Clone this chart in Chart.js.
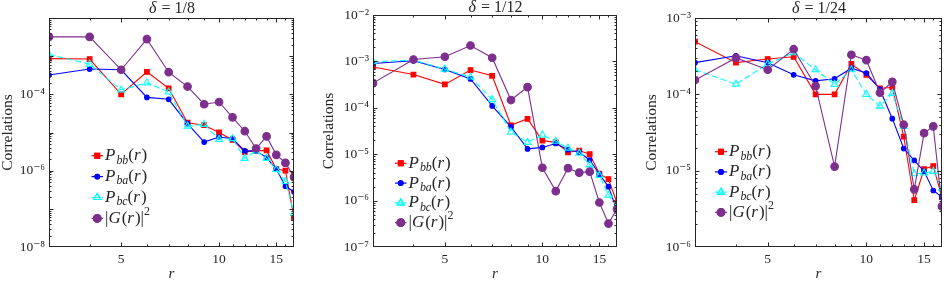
<!DOCTYPE html>
<html>
<head>
<meta charset="utf-8">
<script src="https://cdn.jsdelivr.net/npm/chart.js@4.4.1/dist/chart.umd.min.js"></script>
<style>
  body { margin: 0; background: #fff; width: 947px; height: 284px; overflow: hidden; position: relative; }
  .panel { position: absolute; top: 0; }
</style>
</head>
<body>
<div class="panel" style="left:0px"><canvas id="c8" width="310" height="284"></canvas></div>
<div class="panel" style="left:310px"><canvas id="c12" width="320" height="284"></canvas></div>
<div class="panel" style="left:627px"><canvas id="c24" width="320" height="284"></canvas></div>
<script>
// distances r
const rValues = [3, 4, 5, 6, 7, 8, 9, 10, 11, 12, 13, 14, 15, 16, 17];
const xTickLabels = [5, 10, 15];

// delta = 1/8
const pbb8 = [8.6e-4, 8.4e-4, 1.0e-4, 3.9e-4, 1.44e-4, 1.8e-5, 1.55e-5, 1.0e-5, 6.4e-6, 3.1e-6, 3.3e-6, 3.4e-6, 1.1e-6, 1.0e-6, 5.8e-8];
const pba8 = [3.2e-4, 4.6e-4, 4.4e-4, 8.3e-5, 7.4e-5, 1.7e-5, 5.6e-6, 7.6e-6, 6.9e-6, 3.3e-6, 3.3e-6, 2.2e-6, 1.1e-6, 3.9e-7, 2.8e-7];
const pbc8 = [1.1e-3, 6.2e-4, 1.3e-4, 2.0e-4, 1.15e-4, 1.47e-5, 1.63e-5, 6.6e-6, 6.9e-6, 2.1e-6, 3.3e-6, 2.1e-6, 1.07e-6, 5.2e-7, 7.6e-8];
const g8   = [3.2e-3, 3.2e-3, 4.4e-4, 2.8e-3, 3.8e-4, 1.6e-4, 5.5e-5, 6.3e-5, 2.5e-5, 1.08e-5, 3.8e-6, 7.9e-6, 2.6e-6, 1.6e-6, 6.8e-7];

// delta = 1/12
const pbb12 = [7.6e-4, 5.2e-4, 3.2e-4, 6.5e-4, 4.9e-4, 4.2e-5, 5.8e-5, 1.96e-5, 1.8e-5, 1.1e-5, 1.2e-5, 1.0e-5, 3.8e-6, 2.9e-6, 8.9e-7];
const pba12 = [9.0e-4, 1.03e-3, 6.7e-4, 4.2e-4, 1.1e-4, 3.9e-5, 1.3e-5, 1.4e-5, 1.7e-5, 1.25e-5, 1.1e-5, 7.5e-6, 3.7e-6, 2.0e-6, 6.0e-7];
const pbc12 = [9.8e-4, 1.07e-3, 6.8e-4, 4.6e-4, 1.5e-4, 3.0e-5, 1.8e-5, 2.6e-5, 1.9e-5, 1.35e-5, 1.05e-5, 5.9e-6, 3.5e-6, 1.3e-6, 7.6e-7];
const g12   = [3.4e-4, 1.1e-3, 1.26e-3, 2.2e-3, 1.2e-3, 1.47e-4, 2.8e-4, 5.1e-6, 1.6e-6, 5.0e-6, 4.0e-6, 4.2e-6, 9.1e-7, 3.2e-7, 6.6e-7];

// delta = 1/24
const pbb24 = [4.9e-4, 2.6e-4, 2.9e-4, 3.1e-4, 1.0e-4, 1.0e-4, 2.5e-4, 1.8e-4, 1.2e-4, 1.23e-4, 2.8e-5, 4.1e-6, 1.05e-5, 1.15e-5, 4.5e-6];
const pba24 = [2.6e-4, 3.2e-4, 2.6e-4, 1.8e-4, 1.5e-4, 1.6e-4, 2.2e-4, 1.9e-4, 1.16e-4, 4.8e-5, 1.95e-5, 1.36e-5, 9.8e-6, 5.5e-6, 4.5e-6];
const pbc24 = [2.1e-4, 1.36e-4, 2.5e-4, 3.5e-4, 2.1e-4, 1.35e-4, 2.1e-4, 1.0e-4, 7.0e-5, 1.03e-4, 3.8e-5, 9.1e-6, 9.3e-6, 9.8e-6, 5.9e-6];
const g24   = [1.54e-4, 3.0e-4, 2.1e-4, 3.9e-4, 1.28e-4, 1.13e-5, 3.3e-4, 2.8e-4, 1.05e-4, 1.46e-4, 4.0e-5, 5.7e-6, 3.1e-5, 3.8e-5, 3.4e-6];

const INK = '#262626';
const SERIF = '"Liberation Serif", "DejaVu Serif", serif';

const SUP = { '-': '\u207B', '0': '\u2070', '1': '\u00B9', '2': '\u00B2', '3': '\u00B3', '4': '\u2074', '5': '\u2075', '6': '\u2076', '7': '\u2077', '8': '\u2078', '9': '\u2079' };
const sup = s => String(s).split('').map(c => SUP[c]).join('');

const styles = [
  { name: [['P', 'i'], ['bb', 'sub'], ['(', 'n'], ['r', 'i'], [')', 'n']], color: '#ff0000', pointStyle: 'rect', radius: 3.3, fill: '#ff0000', dash: [] },
  { name: [['P', 'i'], ['ba', 'sub'], ['(', 'n'], ['r', 'i'], [')', 'n']], color: '#0000ff', pointStyle: 'circle', radius: 2.3, fill: '#0000ff', dash: [] },
  { name: [['P', 'i'], ['bc', 'sub'], ['(', 'n'], ['r', 'i'], [')', 'n']], color: '#00ffff', pointStyle: 'triangle', radius: 4, fill: 'rgba(255,255,255,0)', dash: [6, 3] },
  { name: [['|', 'n'], ['G', 'i'], ['(', 'n'], ['r', 'i'], [')|', 'n'], ['2', 'sup']], color: '#7e2f8e', pointStyle: 'circle', radius: 3.8, fill: '#7e2f8e', dash: [] }
];

// frame with inward ticks on all sides
const framePlugin = {
  id: 'frame',
  afterDatasetsDraw(chart) {
    const { ctx, chartArea: a, scales: { x, y } } = chart;
    ctx.save();
    ctx.strokeStyle = INK;
    ctx.lineWidth = 1;
    ctx.beginPath();
    x.ticks.forEach(t => {
      const px = Math.round(x.getPixelForValue(t.value)) + 0.5;
      if (px <= a.left + 1 || px >= a.right - 1) return;
      const len = t.big ? 4.5 : 2.5;
      ctx.moveTo(px, a.bottom); ctx.lineTo(px, a.bottom - len);
      ctx.moveTo(px, a.top); ctx.lineTo(px, a.top + len);
    });
    y.ticks.forEach(t => {
      const py = Math.round(y.getPixelForValue(t.value)) + 0.5;
      if (py <= a.top + 1 || py >= a.bottom - 1) return;
      const len = t.big ? 4.5 : 2.5;
      ctx.moveTo(a.left, py); ctx.lineTo(a.left + len, py);
      ctx.moveTo(a.right, py); ctx.lineTo(a.right - len, py);
    });
    ctx.stroke();
    ctx.strokeRect(Math.round(a.left) + 0.5, Math.round(a.top) + 0.5, Math.round(a.width) - 1, Math.round(a.height) - 1);
    ctx.restore();
  }
};

function mathText(ctx, parts, x, y, size) {
  parts.forEach(([txt, kind]) => {
    let s = size, dy = 0, italic = kind === 'i';
    if (kind === 'sub') { s = size * 0.7; dy = size * 0.28; italic = true; }
    if (kind === 'sup') { s = size * 0.7; dy = -size * 0.38; }
    ctx.font = (italic ? 'italic ' : '') + s + 'px ' + SERIF;
    ctx.fillText(txt, x, y + dy);
    x += ctx.measureText(txt).width + (italic && kind === 'i' ? 1 : 0);
  });
}

// title and legend drawn with mixed italic text
const annotPlugin = {
  id: 'annot',
  afterDraw(chart, args, opts) {
    const { ctx, chartArea: a } = chart;
    ctx.save();
    ctx.fillStyle = INK;
    ctx.textBaseline = 'middle';
    // title
    const tsize = 16;
    const tparts = [['\u03B4', 'i'], [' = ' + opts.title, 'n']];
    let w = 0;
    tparts.forEach(([t, k]) => { ctx.font = (k === 'i' ? 'italic ' : '') + tsize + 'px ' + SERIF; w += ctx.measureText(t).width; });
    mathText(ctx, tparts, (a.left + a.right) / 2 - w / 2, opts.titleY, tsize);
    // legend
    const L = opts.legend;
    styles.forEach((st, i) => {
      const yy = L.y + i * L.dy;
      ctx.strokeStyle = st.color;
      ctx.lineWidth = 1.2;
      ctx.setLineDash(st.dash.length ? [3, 2] : []);
      ctx.beginPath(); ctx.moveTo(L.x, yy); ctx.lineTo(L.x + L.len, yy); ctx.stroke();
      ctx.setLineDash([]);
      ctx.fillStyle = st.fill;
      ctx.lineWidth = 1.2;
      Chart.helpers.drawPoint(ctx, { pointStyle: st.pointStyle, radius: st.radius, rotation: 0, borderWidth: 1.2 }, L.x + L.len / 2, yy);
      ctx.fill(); ctx.stroke();
      ctx.fillStyle = INK;
      mathText(ctx, st.name, L.x + L.len + 2, yy, 17);
    });
    ctx.restore();
  }
};

function decadeTicks(lo, hi) {
  const t = [];
  for (let e = lo; e < hi; e++) for (let k = 1; k < 10; k++) t.push({ value: k * Math.pow(10, e), big: k === 1 });
  t.push({ value: Math.pow(10, hi), big: true });
  return t;
}

function makeChart(id, p) {
  const series = [p.pbb, p.pba, p.pbc, p.g];
  new Chart(document.getElementById(id), {
    type: 'line',
    data: {
      datasets: series.map((vals, i) => ({
        data: rValues.map((r, j) => ({ x: r, y: vals[j] })),
        borderColor: styles[i].color,
        backgroundColor: styles[i].fill,
        pointBorderColor: styles[i].color,
        pointBackgroundColor: styles[i].fill,
        pointStyle: styles[i].pointStyle,
        pointRadius: styles[i].radius,
        pointBorderWidth: 1.1,
        borderWidth: 1.1,
        borderDash: styles[i].dash,
        tension: 0,
        order: 3 - i
      }))
    },
    options: {
      responsive: false,
      animation: false,
      events: [],
      layout: { padding: { top: p.top, right: p.right, left: 0, bottom: 0 } },
      plugins: {
        legend: { display: false },
        tooltip: { enabled: false },
        annot: { title: p.title, titleY: p.titleY, legend: p.legend }
      },
      scales: {
        x: {
          type: 'logarithmic', min: 3, max: 17,
          afterBuildTicks: s => { s.ticks = rValues.map(v => ({ value: v, big: xTickLabels.includes(v) })); },
          afterFit: s => { s.height = 37; },
          grid: { display: false, drawTicks: false },
          border: { display: false },
          ticks: {
            autoSkip: false, maxRotation: 0, padding: 4, color: INK,
            font: { family: SERIF, size: 13.5 },
            callback: v => xTickLabels.includes(v) ? String(v) : ''
          },
          title: { display: true, text: 'r', color: INK, font: { family: SERIF, size: 15, style: 'italic', lineHeight: 1 }, padding: { top: 0, bottom: 2.5 } }
        },
        y: {
          type: 'logarithmic', min: Math.pow(10, p.ylo), max: Math.pow(10, p.yhi),
          afterBuildTicks: s => { s.ticks = decadeTicks(p.ylo, p.yhi); },
          afterFit: s => { s.width = p.yw; },
          grid: { display: false, drawTicks: false },
          border: { display: false },
          ticks: {
            autoSkip: false, padding: 4, color: INK,
            font: { family: SERIF, size: 13.5 },
            callback: (v, i, ticks) => {
              const e = Math.round(Math.log10(v));
              return (ticks[i].big && p.ylabels.includes(e)) ? '10' + sup(e) : '';
            }
          },
          title: { display: true, text: 'Correlations', color: INK, font: { family: SERIF, size: 15.5, lineHeight: 1 }, padding: { top: p.ytitle, bottom: 0 } }
        }
      }
    },
    plugins: [framePlugin, annotPlugin]
  });
}

makeChart('c8', {
  pbb: pbb8, pba: pba8, pbc: pbc8, g: g8,
  title: '1/8', titleY: 8.5, top: 18, right: 16, yw: 49, ytitle: 0.5,
  ylo: -8, yhi: -2, ylabels: [-4, -6, -8],
  legend: { x: 91.5, y: 155.7, dy: 20.9, len: 11.5 }
});
makeChart('c12', {
  pbb: pbb12, pba: pba12, pbc: pbc12, g: g12,
  title: '1/12', titleY: 7.5, top: 15, right: 13, yw: 63, ytitle: 11,
  ylo: -7, yhi: -2, ylabels: [-2, -3, -4, -5, -6, -7],
  legend: { x: 85, y: 163.3, dy: 19.8, len: 11.5 }
});
makeChart('c24', {
  pbb: pbb24, pba: pba24, pbc: pbc24, g: g24,
  title: '1/24', titleY: 8.5, top: 18, right: 5, yw: 68, ytitle: 17,
  ylo: -6, yhi: -3, ylabels: [-3, -4, -5, -6],
  legend: { x: 88, y: 151.7, dy: 20.2, len: 12 }
});
</script>
</body>
</html>
